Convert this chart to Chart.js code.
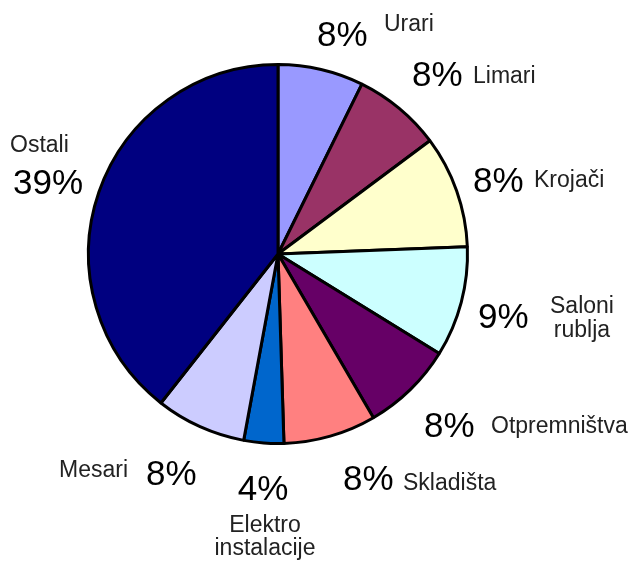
<!DOCTYPE html>
<html lang="hr">
<head>
  <meta charset="UTF-8">
  <title>Struktura djelatnosti</title>
  <script src="https://cdn.jsdelivr.net/npm/chart.js"></script>
  <style>
    body {
      margin: 0;
      background-color: #fff;
    }

    canvas {
      display: block;
    }
  </style>
</head>
<body>
  <canvas id="pieChart" width="635" height="561"></canvas>

  <script>
    // Data (shares in %, starting at 12 o'clock, clockwise)
    const categories = ['Urari', 'Limari', 'Krojači', 'Saloni rublja', 'Otpremništva',
      'Skladišta', 'Elektro instalacije', 'Mesari', 'Ostali'];
    const shares = [7.3, 7.5, 9.6, 9.4, 7.8, 7.9, 3.4, 7.7, 39.4];
    const pctLabels = ['8%', '8%', '8%', '9%', '8%', '8%', '4%', '8%', '39%'];
    const nameLines = [['Urari'], ['Limari'], ['Krojači'], ['Saloni', 'rublja'], ['Otpremništva'],
      ['Skladišta'], ['Elektro', 'instalacije'], ['Mesari'], ['Ostali']];

    const sliceColors = ['#9999FF', '#993366', '#FFFFCC', '#CCFFFF', '#660066',
      '#FF8080', '#0066CC', '#CCCCFF', '#000080'];

    // where each label sits, relative to the pie centre
    // pct: [x, y, align], name: [x, y, align, lineHeight]
    const labelSpots = [
      { pct: [39, -208, 'left'], name: [106, -223, 'left', 0] },
      { pct: [134, -168, 'left'], name: [195, -171, 'left', 0] },
      { pct: [195, -62, 'left'], name: [256, -67, 'left', 0] },
      { pct: [200, 74, 'left'], name: [304, 59, 'center', 24] },
      { pct: [146, 183, 'left'], name: [213, 179, 'left', 0] },
      { pct: [65, 236, 'left'], name: [125, 236, 'left', 0] },
      { pct: [-15, 246, 'center'], name: [-13, 278, 'center', 23] },
      { pct: [-132, 231, 'left'], name: [-219, 223, 'left', 0] },
      { pct: [-265, -60, 'left'], name: [-268, -102, 'left', 0] }
    ];

    const outsideLabels = {
      id: 'outsideLabels',
      afterDatasetsDraw(chart) {
        const ctx = chart.ctx;
        const arcs = chart.getDatasetMeta(0).data;
        if (!arcs.length) return;
        const cx = arcs[0].x;
        const cy = arcs[0].y;
        ctx.save();
        ctx.textBaseline = 'alphabetic';
        arcs.forEach((arc, i) => {
          const spot = labelSpots[i];
          // percentage
          ctx.font = '35px "Liberation Sans", Arial, sans-serif';
          ctx.fillStyle = '#000';
          ctx.textAlign = spot.pct[2];
          ctx.fillText(pctLabels[i], cx + spot.pct[0], cy + spot.pct[1]);
          // category name
          ctx.font = '23px "Liberation Sans", Arial, sans-serif';
          ctx.fillStyle = '#222';
          ctx.textAlign = spot.name[2];
          nameLines[i].forEach((line, j) => {
            ctx.fillText(line, cx + spot.name[0], cy + spot.name[1] + j * spot.name[3]);
          });
        });
        ctx.restore();
      }
    };

    new Chart(document.getElementById('pieChart').getContext('2d'), {
      type: 'pie',
      data: {
        labels: categories,
        datasets: [{
          data: shares,
          backgroundColor: sliceColors,
          borderColor: '#000',
          borderWidth: 3
        }]
      },
      options: {
        responsive: false,
        animation: false,
        layout: {
          padding: { left: 87, right: 166, top: 63, bottom: 116 }
        },
        plugins: {
          legend: { display: false },
          tooltip: { enabled: false }
        }
      },
      plugins: [outsideLabels]
    });
  </script>
</body>
</html>
